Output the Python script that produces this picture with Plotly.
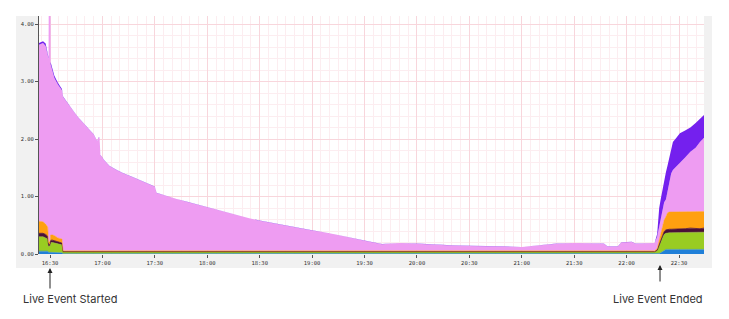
import plotly.graph_objects as go

DAY = "2024-01-01 "

times = [
    "16:23:42", "16:26:00", "16:27:30", "16:28:40", "16:29:10", "16:29:20", "16:30:10", "16:30:20",
    "16:31:30", "16:32:30", "16:34:30", "16:36:50", "16:37:30", "16:40:00", "16:43:00", "16:46:00",
    "16:49:00", "16:52:00", "16:55:00", "16:57:00", "16:57:40", "16:58:20", "16:58:50", "17:01:00",
    "17:04:00", "17:08:00", "17:12:00", "17:17:00", "17:22:00", "17:26:00", "17:30:00", "17:31:00",
    "17:36:00", "17:42:00", "17:48:00", "17:54:00", "18:00:00", "18:06:00", "18:12:00", "18:18:00",
    "18:24:00", "18:30:00", "18:40:00", "18:50:00", "19:00:00", "19:10:00", "19:20:00", "19:30:00",
    "19:40:00", "19:50:00", "20:00:00", "20:10:00", "20:20:00", "20:30:00", "20:40:00", "20:50:00",
    "21:00:00", "21:10:00", "21:20:00", "21:30:00", "21:40:00", "21:47:00", "21:49:00", "21:55:00",
    "21:57:00", "22:03:00", "22:05:00", "22:10:00", "22:16:00", "22:17:30", "22:18:40", "22:19:30",
    "22:20:30", "22:21:30", "22:22:30", "22:23:30", "22:24:30", "22:25:30", "22:26:30", "22:28:30",
    "22:30:30", "22:33:30", "22:36:30", "22:39:30", "22:42:00", "22:44:18",
]

blue = [
    .05, .05, .05, .05, .03, .03, .03, .03, .03, .03, .02, .02, .005, .005, .005, .005,
    .005, .005, .005, .005, .005, .005, .005, .005, .005, .005, .005, .005, .005, .005, .005, .005,
    .005, .005, .005, .005, .005, .005, .005, .005, .005, .005, .005, .005, .005, .005, .005, .005,
    .005, .005, .005, .005, .005, .005, .005, .005, .005, .005, .005, .005, .005, .005, .005, .005,
    .005, .005, .005, .005, .005, .005, .01, .02, .04, .07, .08, .08, .08, .08, .08, .08,
    .08, .08, .08, .08, .08, .08,
]

green = [
    .25, .25, .23, .21, .10, .10, .12, .17, .17, .16, .15, .14, .03, .03, .03, .03,
    .03, .03, .03, .03, .03, .03, .03, .03, .03, .03, .03, .03, .03, .03, .03, .03,
    .03, .03, .03, .03, .03, .03, .03, .03, .03, .03, .03, .03, .03, .03, .03, .03,
    .03, .03, .03, .03, .03, .03, .03, .03, .03, .03, .03, .03, .03, .03, .03, .03,
    .03, .03, .03, .03, .03, .05, .12, .18, .24, .27, .28, .29, .29, .29, .29, .30,
    .29, .30, .30, .29, .30, .30,
]

maroon = [
    .06, .06, .06, .05, .02, .02, .03, .04, .04, .04, .03, .03, .005, .005, .005, .005,
    .005, .005, .005, .005, .005, .005, .005, .005, .005, .005, .005, .005, .005, .005, .005, .005,
    .005, .005, .005, .005, .005, .005, .005, .005, .005, .005, .005, .005, .005, .005, .005, .005,
    .005, .005, .005, .005, .005, .005, .005, .005, .005, .005, .005, .005, .005, .005, .005, .005,
    .005, .005, .005, .005, .005, .01, .04, .05, .05, .05, .06, .06, .06, .06, .06, .06,
    .07, .06, .07, .07, .06, .07,
]

orange = [
    .21, .20, .18, .16, .05, .05, .06, .09, .09, .09, .08, .07, .015, .015, .015, .015,
    .015, .015, .015, .015, .015, .015, .015, .015, .015, .015, .015, .015, .015, .015, .015, .015,
    .015, .015, .015, .015, .015, .015, .015, .015, .015, .015, .015, .015, .015, .015, .015, .015,
    .015, .015, .015, .015, .015, .015, .015, .015, .015, .015, .015, .015, .015, .015, .015, .015,
    .015, .015, .015, .015, .015, .03, .07, .10, .17, .20, .23, .29, .30, .30, .30, .29,
    .30, .30, .29, .30, .29, .29,
]

pink = [
    3.07, 3.11, 3.10, 2.98, 3.20, 4.50, 4.46, 2.97, 2.85, 2.74, 2.67, 2.59, 2.675, 2.565, 2.445, 2.325,
    2.225, 2.135, 2.025, 1.905, 1.965, 1.965, 1.665, 1.575, 1.475, 1.405, 1.345, 1.285, 1.225, 1.175, 1.115, 1.005,
    .955, .905, .855, .805, .755, .705, .655, .615, .565, .525, .465, .415, .355, .305, .235, .175,
    .115, .135, .125, .105, .095, .085, .085, .075, .065, .095, .125, .135, .125, .125, .075, .075,
    .145, .155, .125, .135, .135, .205, .23, .25, .30, .31, .30, .38, .52, .67, .73, .79,
    .84, .94, 1.04, 1.11, 1.22, 1.28,
]

purple = [
    .03, .03, .04, .05, .02, .02, .02, .04, .04, .04, .03, .02, .01, .005, .005, .005,
    .005, .005, .005, .005, .005, .005, .005, .005, .005, .005, .005, .005, .005, .005, .005, .005,
    .003, .003, .003, .003, .003, .003, .003, .003, .003, .003, .003, .003, .003, .003, .003, .003,
    .003, .003, .003, .003, .003, .003, .003, .003, .003, .003, .003, .003, .003, .003, .003, .003,
    .003, .003, .003, .003, .003, .05, .33, .35, .31, .40, .47, .45, .44, .45, .49, .50,
    .52, .47, .42, .43, .40, .40,
]

series = [
    ("blue", blue, "#1f7fd8", 0.5),
    ("green", green, "#99cc22", 0.5),
    ("maroon", maroon, "#4a0f38", 0.8),
    ("orange", orange, "#ffa010", 0.5),
    ("pink", pink, "#ee9cf2", 0),
    ("purple", purple, "#7420ee", 0),
]

x = [DAY + t for t in times]

fig = go.Figure()
for name, vals, col, lw in series:
    fig.add_trace(go.Scatter(
        x=x, y=vals, name=name, mode="lines", stackgroup="one",
        line=dict(width=lw, color=col, shape="linear"), fillcolor=col,
        hoverinfo="skip",
    ))

L, R, T, B = 39, 25, 16, 65
W, H = 729, 319
pw, ph = W - L - R, H - T - B

def px(xp):
    return (xp - L) / pw

def py(yp):
    return (H - B - yp) / ph

gray = "#f1f1f1"
shapes = [
    dict(type="rect", xref="paper", yref="paper", x0=px(16), x1=px(39), y0=py(268), y1=1,
         fillcolor=gray, line_width=0, layer="below"),
    dict(type="rect", xref="paper", yref="paper", x0=px(704), x1=px(712), y0=py(268), y1=1,
         fillcolor=gray, line_width=0, layer="below"),
    dict(type="rect", xref="paper", yref="paper", x0=px(16), x1=px(712), y0=py(268), y1=0,
         fillcolor=gray, line_width=0, layer="below"),
]

tickfont = dict(family="DejaVu Sans Mono", size=5.5, color="#333")
fig.update_layout(
    width=W, height=H, margin=dict(l=L, r=R, t=T, b=B),
    paper_bgcolor="white", plot_bgcolor="white", showlegend=False,
    shapes=shapes,
    xaxis=dict(
        type="date", range=[DAY + "16:23:42", DAY + "22:44:18"],
        tick0=DAY + "16:30:00", dtick=30 * 60 * 1000, tickformat="%H:%M",
        ticks="outside", ticklen=3, tickcolor="#555", tickfont=tickfont,
        showgrid=True, gridcolor="#f8d6dc", gridwidth=1,
        minor=dict(dtick=5 * 60 * 1000, showgrid=True, gridcolor="#fcedf0"),
        showline=False, zeroline=False,
    ),
    yaxis=dict(
        range=[0, 4.14], tick0=0, dtick=1, tickformat=".2f",
        ticks="outside", ticklen=3, tickcolor="#555", tickfont=tickfont,
        showgrid=True, gridcolor="#f8d6dc", gridwidth=1,
        minor=dict(dtick=0.2, showgrid=True, gridcolor="#fcedf0"),
        showline=True, linecolor="#555", linewidth=1, zeroline=False,
    ),
    annotations=[
        dict(x=DAY + "16:30:00", xref="x", y=py(268), yref="paper", text="", showarrow=True,
             ax=0, ay=22, arrowhead=2, arrowsize=1, arrowwidth=1, arrowcolor="#222"),
        dict(x=DAY + "22:19:08", xref="x", y=py(265), yref="paper", text="", showarrow=True,
             ax=0, ay=18, arrowhead=2, arrowsize=1, arrowwidth=1, arrowcolor="#222"),
        dict(x=px(69.5), xref="paper", y=py(299), yref="paper", text="Live Event Started",
             showarrow=False, xanchor="center", yanchor="middle",
             font=dict(family="Inter", size=11, color="#333")),
        dict(x=px(657.5), xref="paper", y=py(299), yref="paper", text="Live Event Ended",
             showarrow=False, xanchor="center", yanchor="middle",
             font=dict(family="Inter", size=11, color="#333")),
    ],
)

fig.write_html("out.html")
